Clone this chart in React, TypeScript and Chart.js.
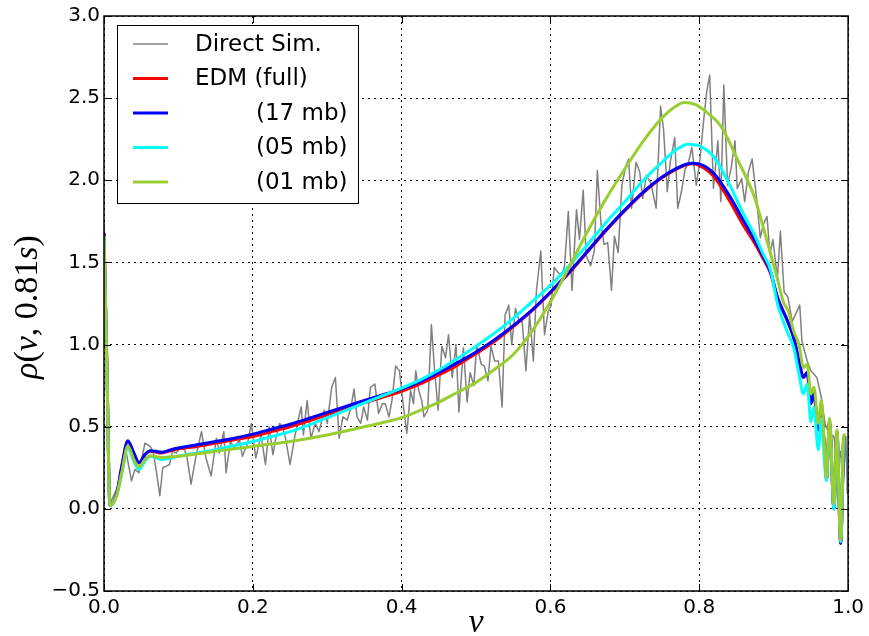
import React, { useEffect, useRef } from "react";
import { Chart, registerables } from "chart.js";

Chart.register(...registerables);

// ---------- data ----------
const xTicks = [0, 0.2, 0.4, 0.6, 0.8, 1.0];
const yTicks = [-0.5, 0, 0.5, 1.0, 1.5, 2.0, 2.5, 3.0];

const seriesLabels = ["Direct Sim.", "EDM (full)", "(17 mb)", "(05 mb)", "(01 mb)"];

const simV = [
  0, 0.004, 0.008, 0.017, 0.024, 0.03, 0.037, 0.0415, 0.047, 0.055, 0.062, 0.066, 0.07, 0.075, 0.079, 0.084,
  0.088, 0.092, 0.097, 0.102, 0.108, 0.111, 0.117, 0.124, 0.131, 0.137, 0.144, 0.151, 0.155, 0.161, 0.164,
  0.17, 0.175, 0.182, 0.186, 0.193, 0.198, 0.204, 0.211, 0.217, 0.222, 0.227, 0.231, 0.236, 0.24, 0.244,
  0.25, 0.256, 0.26, 0.265, 0.268, 0.273, 0.278, 0.284, 0.289, 0.296, 0.3, 0.306, 0.311, 0.316, 0.321,
  0.327, 0.332, 0.336, 0.34, 0.345, 0.349, 0.354, 0.358, 0.364, 0.369, 0.374, 0.378, 0.383, 0.387, 0.392,
  0.397, 0.403, 0.407, 0.412, 0.416, 0.419, 0.423, 0.427, 0.43, 0.435, 0.44, 0.444, 0.449, 0.454, 0.459,
  0.463, 0.468, 0.473, 0.477, 0.483, 0.488, 0.492, 0.497, 0.501, 0.507, 0.511, 0.516, 0.52, 0.525, 0.53,
  0.535, 0.539, 0.544, 0.548, 0.553, 0.558, 0.562, 0.567, 0.572, 0.577, 0.581, 0.587, 0.592, 0.597, 0.601,
  0.605, 0.61, 0.615, 0.619, 0.624, 0.629, 0.635, 0.639, 0.644, 0.648, 0.654, 0.659, 0.663, 0.668, 0.672,
  0.677, 0.682, 0.686, 0.691, 0.696, 0.701, 0.705, 0.709, 0.715, 0.72, 0.724, 0.729, 0.735, 0.742, 0.748,
  0.752, 0.757, 0.761, 0.767, 0.771, 0.776, 0.781, 0.785, 0.79, 0.796, 0.801, 0.806, 0.81, 0.814, 0.819,
  0.825, 0.829, 0.833, 0.838, 0.843, 0.848, 0.851, 0.857, 0.861, 0.866, 0.871, 0.877, 0.882, 0.886, 0.891,
  0.895, 0.899, 0.905, 0.909, 0.914, 0.919, 0.925, 0.935, 0.938, 0.945, 0.95, 0.958, 0.964, 0.969, 0.974,
  0.981, 0.986, 0.99, 0.993, 0.997, 0.999,
];
const simRho = [
  1.73, 0.85, 0.03, 0.12, 0.25, 0.34, 0.17, 0.24, 0.22, 0.4, 0.38, 0.35, 0.24, 0.08, 0.25, 0.26,
  0.27, 0.35, 0.34, 0.37, 0.36, 0.33, 0.15, 0.33, 0.47, 0.31, 0.2, 0.43, 0.34, 0.47, 0.22,
  0.41, 0.37, 0.42, 0.32, 0.4, 0.52, 0.31, 0.45, 0.27, 0.5, 0.33, 0.43, 0.52, 0.5, 0.43,
  0.27, 0.43, 0.52, 0.62, 0.45, 0.66, 0.43, 0.52, 0.47, 0.6, 0.52, 0.74, 0.8, 0.43, 0.56,
  0.54, 0.62, 0.73, 0.56, 0.52, 0.62, 0.54, 0.74, 0.76, 0.58, 0.64, 0.64, 0.56, 0.66, 0.87,
  0.84, 0.6, 0.46, 0.72, 0.64, 0.84, 0.72, 0.66, 0.56, 0.6, 1.12, 0.86, 0.6, 0.99, 0.92,
  1.06, 0.8, 1.0, 0.59, 0.98, 0.65, 0.83, 0.75, 1.0, 0.88, 0.87, 0.78, 0.99, 0.9, 0.9,
  0.62, 1.18, 1.24, 1.0, 1.22, 1.14, 1.14, 0.84, 1.18, 0.9, 1.32, 1.57, 1.06, 1.2, 1.24,
  1.47, 1.44, 1.42, 1.48, 1.81, 1.33, 1.82, 1.64, 1.94, 1.54, 1.48, 1.57, 2.06, 1.73, 1.61,
  1.62, 1.33, 1.66, 1.56, 1.97, 2.08, 2.13, 1.83, 2.11, 2.05, 1.89, 2.03, 1.98, 1.83, 2.45,
  2.31, 1.93, 2.11, 2.26, 1.83, 1.93, 2.07, 2.1, 2.2, 1.97, 2.13, 2.37, 2.54, 2.64, 1.95,
  2.24, 1.87, 2.58, 1.97, 2.08, 2.24, 1.95, 2.01, 1.87, 2.05, 2.13, 1.89, 1.65, 1.73, 1.78,
  1.55, 1.64, 1.4, 1.69, 1.32, 1.29, 1.14, 1.24, 1.02, 0.9, 0.84, 0.8, 0.68, 0.52, 0.46,
  0.44, 0.27, 0.35, 0.11, 0.44, 0.09,
];

const edmV = [
  0, 0.004, 0.008, 0.017, 0.024, 0.032, 0.04, 0.047, 0.055, 0.062, 0.07, 0.077, 0.09, 0.1, 0.125, 0.15,
  0.175, 0.2, 0.225, 0.25, 0.275, 0.3, 0.325, 0.35, 0.375, 0.4, 0.425, 0.45, 0.475, 0.5, 0.525, 0.55,
  0.575, 0.6, 0.625, 0.65, 0.675, 0.7, 0.725, 0.75, 0.775, 0.79, 0.8, 0.82, 0.84, 0.86, 0.874, 0.885,
  0.896, 0.905, 0.918, 0.927, 0.934, 0.94, 0.945, 0.95, 0.954, 0.96, 0.964, 0.968, 0.971, 0.975, 0.981,
  0.985, 0.99, 0.994,
];
const edmFull = [
  1.68, 0.85, 0.02, 0.09, 0.26, 0.41, 0.34, 0.28, 0.33, 0.35, 0.345, 0.34, 0.355, 0.365, 0.38, 0.4,
  0.42, 0.44, 0.47, 0.5, 0.535, 0.572, 0.608, 0.645, 0.68, 0.715, 0.76, 0.815, 0.875, 0.945, 1.02, 1.11,
  1.205, 1.315, 1.435, 1.565, 1.695, 1.815, 1.925, 2.015, 2.08, 2.1, 2.09, 2.02, 1.88, 1.72, 1.62, 1.53,
  1.43, 1.28, 1.15, 1.04, 0.9, 0.8, 0.83, 0.64, 0.7, 0.48, 0.62, 0.38, 0.18, 0.53, 0.0,
  0.47, -0.21, 0.44,
];
const edm17 = [
  1.68, 0.85, 0.02, 0.09, 0.26, 0.415, 0.34, 0.28, 0.33, 0.354, 0.35, 0.344, 0.36, 0.37, 0.39, 0.41,
  0.43, 0.455, 0.485, 0.515, 0.55, 0.587, 0.623, 0.66, 0.695, 0.73, 0.775, 0.83, 0.89, 0.955, 1.03, 1.115,
  1.21, 1.32, 1.44, 1.57, 1.7, 1.82, 1.93, 2.02, 2.085, 2.104, 2.1, 2.04, 1.91, 1.75, 1.64, 1.545,
  1.44, 1.29, 1.15, 1.04, 0.9, 0.8, 0.83, 0.64, 0.7, 0.48, 0.62, 0.38, 0.18, 0.53, 0.0,
  0.47, -0.21, 0.44,
];

const mb05V = [
  0, 0.004, 0.008, 0.017, 0.024, 0.032, 0.04, 0.047, 0.055, 0.062, 0.07, 0.077, 0.09, 0.1, 0.125, 0.15,
  0.175, 0.2, 0.225, 0.25, 0.275, 0.3, 0.325, 0.35, 0.375, 0.4, 0.425, 0.45, 0.475, 0.5, 0.525, 0.55,
  0.575, 0.6, 0.625, 0.65, 0.675, 0.7, 0.725, 0.75, 0.77, 0.785, 0.8, 0.82, 0.84, 0.86, 0.874, 0.885,
  0.896, 0.905, 0.918, 0.927, 0.934, 0.94, 0.945, 0.95, 0.954, 0.96, 0.964, 0.968, 0.971, 0.975, 0.981,
  0.985, 0.99, 0.994,
];
const edm05 = [
  1.66, 0.82, 0.02, 0.08, 0.22, 0.37, 0.29, 0.24, 0.29, 0.32, 0.31, 0.3, 0.31, 0.32, 0.34, 0.36,
  0.385, 0.41, 0.44, 0.47, 0.51, 0.555, 0.6, 0.645, 0.69, 0.735, 0.785, 0.845, 0.915, 0.99, 1.07, 1.16,
  1.26, 1.36, 1.48, 1.61, 1.745, 1.87, 2.0, 2.11, 2.19, 2.22, 2.21, 2.14, 1.98, 1.79, 1.67, 1.56,
  1.45, 1.25, 1.08, 0.98, 0.82, 0.7, 0.76, 0.53, 0.62, 0.36, 0.55, 0.3, 0.17, 0.5, 0.0,
  0.46, -0.2, 0.44,
];

const mb01V = [
  0, 0.004, 0.008, 0.017, 0.024, 0.032, 0.04, 0.047, 0.055, 0.062, 0.07, 0.077, 0.1, 0.15, 0.2, 0.25,
  0.3, 0.35, 0.4, 0.425, 0.45, 0.475, 0.5, 0.525, 0.55, 0.575, 0.6, 0.625, 0.65, 0.675, 0.7, 0.725,
  0.75, 0.765, 0.78, 0.795, 0.811, 0.829, 0.851, 0.874, 0.885, 0.896, 0.905, 0.913, 0.92, 0.927, 0.934,
  0.94, 0.945, 0.95, 0.954, 0.96, 0.964, 0.968, 0.971, 0.975, 0.981, 0.985, 0.99, 0.994, 0.997,
];
const edm01 = [
  1.66, 0.82, 0.02, 0.08, 0.22, 0.384, 0.3, 0.257, 0.3, 0.324, 0.318, 0.313, 0.32, 0.35, 0.38, 0.41,
  0.45, 0.5, 0.555, 0.6, 0.65, 0.71, 0.77, 0.85, 0.94, 1.08, 1.26, 1.47, 1.69, 1.89, 2.07, 2.24,
  2.38, 2.44, 2.474, 2.46, 2.41, 2.33, 2.13, 1.9, 1.73, 1.55, 1.4, 1.26, 1.2, 1.08, 1.0,
  0.86, 0.88, 0.7, 0.74, 0.52, 0.66, 0.4, 0.19, 0.55, 0.03, 0.48, -0.19, 0.45, 0.45,
];

const seriesColors = ["#808080", "#ff0000", "#0000ff", "#00ffff", "#9acd32"];
const seriesWidths = [1.5, 3, 3, 3, 3];
const legendIndent = [0, 0, 61, 61, 61];

function pairs(xs: number[], ys: number[]) {
  return xs.map((x, i) => ({ x, y: ys[i] }));
}

const decorPlugin = {
  id: "decor",
  afterDraw(chart: any) {
    const { ctx, chartArea: a } = chart;
    const xs = chart.scales.x;
    const ys = chart.scales.y;
    ctx.save();
    // frame
    ctx.strokeStyle = "#000";
    ctx.lineWidth = 1.5;
    ctx.setLineDash([]);
    ctx.strokeRect(a.left, a.top, a.right - a.left, a.bottom - a.top);
    // inward ticks
    ctx.lineWidth = 1;
    const tl = 7;
    ctx.beginPath();
    xTicks.forEach((v) => {
      const px = Math.round(xs.getPixelForValue(v)) + 0.5;
      ctx.moveTo(px, a.bottom);
      ctx.lineTo(px, a.bottom - tl);
      ctx.moveTo(px, a.top);
      ctx.lineTo(px, a.top + tl);
    });
    yTicks.forEach((v) => {
      const py = Math.round(ys.getPixelForValue(v)) + 0.5;
      ctx.moveTo(a.left, py);
      ctx.lineTo(a.left + tl, py);
      ctx.moveTo(a.right, py);
      ctx.lineTo(a.right - tl, py);
    });
    ctx.stroke();

    // legend
    const bx = 117;
    const by = 25;
    const bw = 241;
    const bh = 178;
    ctx.fillStyle = "#fff";
    ctx.fillRect(bx, by, bw, bh);
    ctx.strokeStyle = "#000";
    ctx.lineWidth = 1;
    ctx.strokeRect(bx + 0.5, by + 0.5, bw, bh);
    ctx.font = '23px "DejaVu Sans"';
    ctx.textBaseline = "middle";
    ctx.textAlign = "left";
    seriesLabels.forEach((lab, i) => {
      const ry = by + 19 + i * 34.5;
      ctx.strokeStyle = seriesColors[i];
      ctx.lineWidth = seriesWidths[i];
      ctx.beginPath();
      ctx.moveTo(bx + 16, ry);
      ctx.lineTo(bx + 51, ry);
      ctx.stroke();
      ctx.fillStyle = "#000";
      ctx.fillText(lab, bx + 78 + legendIndent[i], ry + 1);
    });

    // axis titles
    ctx.fillStyle = "#000";
    ctx.textBaseline = "alphabetic";
    ctx.font = 'italic 34px "Liberation Serif"';
    ctx.textAlign = "center";
    ctx.fillText("v", (a.left + a.right) / 2, 632);

    const parts: [string, boolean][] = [
      ["ρ", true],
      ["(", false],
      ["v", true],
      [", 0.81", false],
      ["s", true],
      [")", false],
    ];
    const fs = 34;
    const fontFor = (it: boolean) => (it ? `italic ${fs}px "Liberation Serif"` : `${fs}px "Liberation Serif"`);
    let total = 0;
    parts.forEach(([t, it]) => {
      ctx.font = fontFor(it);
      total += ctx.measureText(t).width;
    });
    ctx.translate(37, 307);
    ctx.rotate(-Math.PI / 2);
    ctx.textAlign = "left";
    let cx = -total / 2;
    parts.forEach(([t, it]) => {
      ctx.font = fontFor(it);
      ctx.fillText(t, cx, 0);
      cx += ctx.measureText(t).width;
    });
    ctx.restore();
  },
};

export default function App() {
  const ref = useRef<HTMLCanvasElement | null>(null);
  useEffect(() => {
    if (!ref.current) return;
    const tickFont = { family: '"DejaVu Sans"', size: 20 };
    const chart = new Chart(ref.current, {
      type: "line",
      data: {
        datasets: [
          {
            label: seriesLabels[0],
            data: pairs(simV, simRho),
            borderColor: seriesColors[0],
            borderWidth: seriesWidths[0],
            tension: 0,
            order: 5,
          },
          {
            label: seriesLabels[1],
            data: pairs(edmV, edmFull),
            borderColor: seriesColors[1],
            borderWidth: seriesWidths[1],
            cubicInterpolationMode: "monotone",
            order: 4,
          },
          {
            label: seriesLabels[2],
            data: pairs(edmV, edm17),
            borderColor: seriesColors[2],
            borderWidth: seriesWidths[2],
            cubicInterpolationMode: "monotone",
            order: 3,
          },
          {
            label: seriesLabels[3],
            data: pairs(mb05V, edm05),
            borderColor: seriesColors[3],
            borderWidth: seriesWidths[3],
            cubicInterpolationMode: "monotone",
            order: 2,
          },
          {
            label: seriesLabels[4],
            data: pairs(mb01V, edm01),
            borderColor: seriesColors[4],
            borderWidth: seriesWidths[4],
            cubicInterpolationMode: "monotone",
            order: 1,
          },
        ],
      } as any,
      options: {
        animation: false,
        responsive: false,
        maintainAspectRatio: false,
        devicePixelRatio: 1,
        layout: { padding: { top: 10, right: 16, left: 0, bottom: 0 } },
        elements: { point: { radius: 0 }, line: { fill: false, borderJoinStyle: "round" } },
        plugins: { legend: { display: false }, tooltip: { enabled: false } },
        scales: {
          x: {
            type: "linear",
            min: 0,
            max: 1,
            afterFit: (s: any) => {
              s.height = 45;
            },
            afterBuildTicks: (s: any) => {
              s.ticks = xTicks.map((v) => ({ value: v }));
            },
            ticks: {
              font: tickFont,
              color: "#000",
              padding: 5,
              maxRotation: 0,
              callback: (v: any) => Number(v).toFixed(1),
            },
            grid: { color: "#000", lineWidth: 1, drawTicks: false },
            border: { display: false, dash: [2, 4] },
          },
          y: {
            type: "linear",
            min: -0.5,
            max: 3,
            afterFit: (s: any) => {
              s.width = 104;
            },
            afterBuildTicks: (s: any) => {
              s.ticks = yTicks.map((v) => ({ value: v }));
            },
            ticks: {
              font: tickFont,
              color: "#000",
              padding: 4,
              callback: (v: any) => {
                const n = Number(v);
                const s = Math.abs(n).toFixed(1);
                return n < 0 ? "\u2212" + s : s;
              },
            },
            grid: { color: "#000", lineWidth: 1, drawTicks: false },
            border: { display: false, dash: [2, 4] },
          },
        },
      } as any,
      plugins: [decorPlugin],
    });
    return () => chart.destroy();
  }, []);
  return (
    <div style={{ position: "absolute", left: 0, top: 0, width: 869, height: 636, background: "#fff" }}>
      <canvas ref={ref} width={869} height={636} style={{ display: "block" }} />
    </div>
  );
}
